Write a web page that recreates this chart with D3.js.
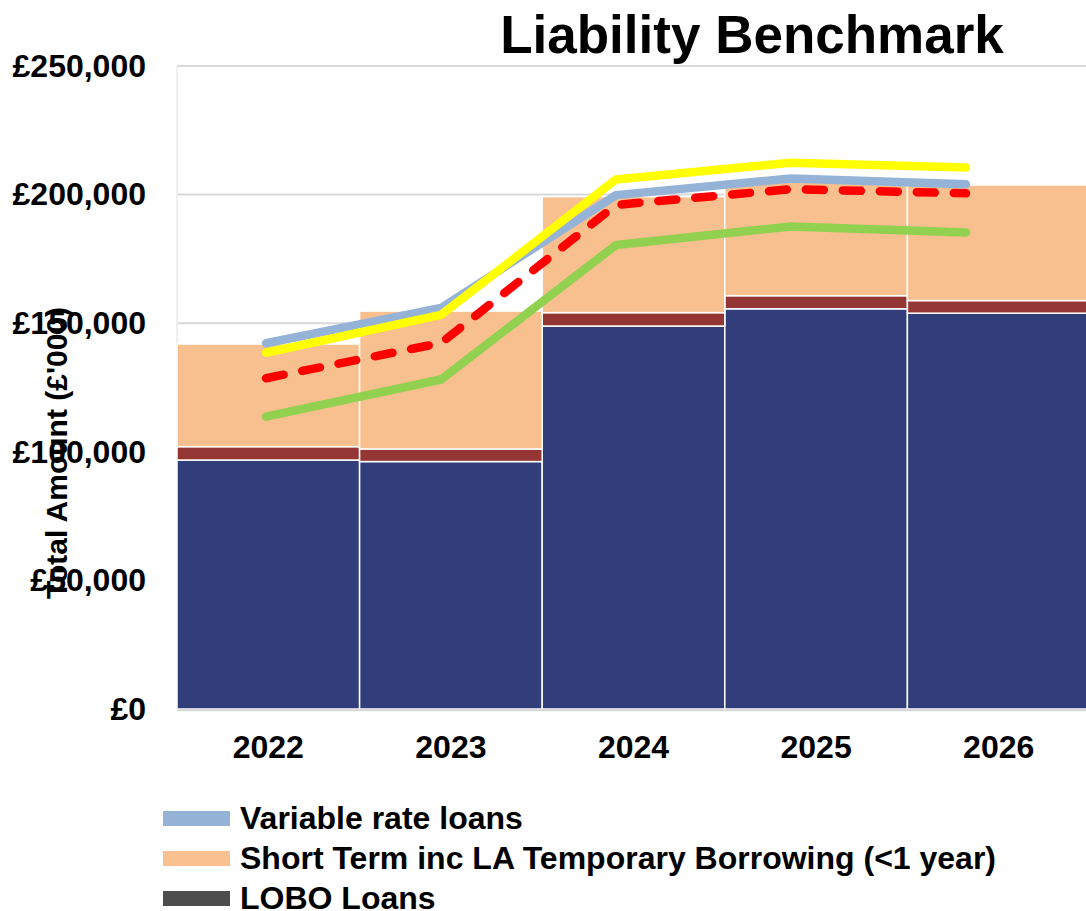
<!DOCTYPE html>
<html>
<head>
<meta charset="utf-8">
<script src="https://d3js.org/d3.v7.min.js"></script>
<style>
  body { margin: 0; background: #fff; }
  svg { display: block; font-family: "Liberation Sans", Arial, sans-serif; }
</style>
</head>
<body>
<div id="chart"></div>
<script>
// data
const years = ['2022', '2023', '2024', '2025', '2026'];
const fixedLoans = [96800, 96200, 148900, 155600, 153900];
const loboLoans = [5200, 4900, 5200, 5100, 4900];
const shortTerm = [39900, 53600, 45100, 45000, 44950];

const variableLine = [142200, 155900, 199800, 206300, 204000];
const upperLine = [138500, 153200, 205900, 212400, 210500];
const benchmarkLine = [128600, 142300, 196000, 202100, 200500];
const lowerLine = [113700, 128100, 180400, 187600, 185300];

const yTicks = [0, 50000, 100000, 150000, 200000, 250000];

const legendItems = [
  { label: 'Variable rate loans', color: '#95b3d7' },
  { label: 'Short Term inc LA Temporary Borrowing (<1 year)', color: '#fac090' },
  { label: 'LOBO Loans', color: '#4d4d4d' }
];

const width = 1086, height = 911;
const margin = { top: 66, right: -4, bottom: 202, left: 177 };
const plotWidth = width - margin.left - margin.right;
const plotHeight = height - margin.top - margin.bottom;

const svg = d3.select('#chart').append('svg')
  .attr('width', width)
  .attr('height', height);

const plot = svg.append('g')
  .attr('transform', `translate(${margin.left},${margin.top})`);

const x = d3.scaleBand().domain(years).range([0, plotWidth]).padding(0);
const y = d3.scaleLinear().domain([0, 250000]).range([plotHeight, 0]);
// the line series sit on a slightly narrower category span
const xLine = d3.scaleLinear().domain([0, years.length - 1]).range([89, 789]);

// gridlines
plot.append('g')
  .selectAll('line')
  .data(yTicks.slice(1))
  .enter()
  .append('line')
  .attr('x1', 0)
  .attr('x2', plotWidth)
  .attr('y1', d => y(d))
  .attr('y2', d => y(d))
  .style('stroke', '#d9d9d9')
  .style('stroke-width', 2);

plot.append('line')
  .attr('x1', 0).attr('x2', 0)
  .attr('y1', 0).attr('y2', plotHeight)
  .style('stroke', '#ebebe6')
  .style('stroke-width', 1.5);

// stacked bars
const rows = years.map((yr, i) => ({
  year: yr, fixed: fixedLoans[i], lobo: loboLoans[i], short: shortTerm[i]
}));
const stack = d3.stack().keys(['fixed', 'lobo', 'short'])(rows);
const barColors = { fixed: '#323e7b', lobo: '#943634', short: '#f8bf8f' };

plot.append('g')
  .selectAll('g')
  .data(stack)
  .enter()
  .append('g')
  .style('fill', d => barColors[d.key])
  .selectAll('rect')
  .data(d => d)
  .enter()
  .append('rect')
  .attr('x', d => x(d.data.year))
  .attr('width', x.bandwidth())
  .attr('y', d => y(d[1]))
  .attr('height', d => y(d[0]) - y(d[1]))
  .style('stroke', '#ffffff')
  .style('stroke-width', 1.5);

// x axis baseline
plot.append('line')
  .attr('x1', 0).attr('x2', plotWidth)
  .attr('y1', plotHeight + 1).attr('y2', plotHeight + 1)
  .style('stroke', '#d9d9d9')
  .style('stroke-width', 2.5);

// lines
const line = d3.line()
  .x((d, i) => xLine(i))
  .y(d => y(d));

const lineSeries = [
  { values: lowerLine, color: '#92d050', dash: null },
  { values: benchmarkLine, color: '#ff0000', dash: '18,19' },
  { values: variableLine, color: '#95b3d7', dash: null },
  { values: upperLine, color: '#ffff00', dash: null }
];

plot.append('g')
  .selectAll('path')
  .data(lineSeries)
  .enter()
  .append('path')
  .attr('d', d => line(d.values))
  .style('fill', 'none')
  .style('stroke', d => d.color)
  .style('stroke-width', 8.5)
  .style('stroke-linecap', 'round')
  .style('stroke-linejoin', 'round')
  .style('stroke-dasharray', d => d.dash);

// axes
const yAxis = d3.axisLeft(y)
  .tickValues(yTicks)
  .tickSize(0)
  .tickPadding(31)
  .tickFormat(d => '£' + d3.format(',')(d));

plot.append('g')
  .attr('class', 'y-axis')
  .call(yAxis)
  .call(g => g.select('.domain').remove())
  .selectAll('text')
  .style('font-size', '32px')
  .style('font-weight', 'bold')
  .style('fill', '#000');

const xAxis = d3.axisBottom(x).tickSize(0).tickPadding(26);

plot.append('g')
  .attr('class', 'x-axis')
  .attr('transform', `translate(0,${plotHeight})`)
  .call(xAxis)
  .call(g => g.select('.domain').remove())
  .selectAll('text')
  .style('font-size', '32px')
  .style('font-weight', 'bold')
  .style('fill', '#000');

// title
svg.append('text')
  .attr('x', 752)
  .attr('y', 53)
  .attr('text-anchor', 'middle')
  .style('font-size', '53px')
  .style('font-weight', 'bold')
  .text('Liability Benchmark');

// y label
svg.append('text')
  .attr('transform', 'rotate(-90)')
  .attr('x', -453)
  .attr('y', 67)
  .attr('text-anchor', 'middle')
  .style('font-size', '30px')
  .style('font-weight', 'bold')
  .text("Total Amount (£'000)");

// legend
const legend = svg.append('g')
  .attr('transform', 'translate(163, 818)');

const item = legend.selectAll('g')
  .data(legendItems)
  .enter()
  .append('g')
  .attr('transform', (d, i) => `translate(0, ${i * 40})`);

item.append('rect')
  .attr('x', 0)
  .attr('y', -7)
  .attr('width', 67)
  .attr('height', 15)
  .style('fill', d => d.color);

item.append('text')
  .attr('x', 77)
  .attr('y', 11)
  .style('font-size', '32px')
  .style('font-weight', 'bold')
  .text(d => d.label);
</script>
</body>
</html>
